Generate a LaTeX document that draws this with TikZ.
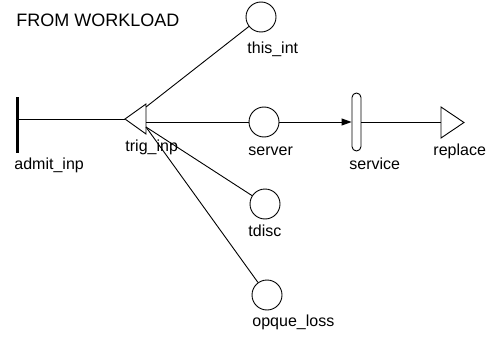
\documentclass[tikz,border=0pt]{standalone}
\usepackage{fontspec}
\setmainfont{Liberation Sans}
\usetikzlibrary{arrows.meta}
\begin{document}
\begin{tikzpicture}[x=1pt,y=-1pt,line width=0.9pt,
  lbl/.style={font=\fontsize{16}{18}\selectfont, anchor=base west, inner sep=0pt},
  ttl/.style={font=\fontsize{18}{21}\selectfont, anchor=base west, inner sep=0pt},
  place/.style={circle, draw, minimum size=30pt, inner sep=0pt},
  bar/.style={rectangle, draw, rounded corners=4.5pt, minimum width=9pt, minimum height=58pt, inner sep=0pt},
  arr/.style={-{Triangle[length=10pt,width=7pt]}}]
\useasboundingbox (0,0) rectangle (490,337);
% title
\node[ttl] (title) at (16,26.5) {FROM WORKLOAD};
% admit_inp bar
\coordinate (admitTop) at (17.5,97);
\coordinate (admitBot) at (17.5,153);
\coordinate (admit) at (17.5,119);
\draw[line width=2.6pt] (admitTop) -- (admitBot);
\node[lbl] (admitlbl) at (14,169.5) {admit\_inp};
% trig_inp triangle
\coordinate (trigTip) at (125,119);
\coordinate (trigT) at (146,104);
\coordinate (trigB) at (146,134);
\draw (trigTip) -- (trigT) -- (trigB) -- cycle;
\coordinate (trigA) at (146,107);
\coordinate (trigS) at (146,122);
\coordinate (trigC) at (146,127);
\node[lbl] (triglbl) at (125,151) {trig\_inp};
\draw (admit) -- (trigTip);
% places
\node[place] (thisint) at (261,17) {};
\node[place] (server) at (264,122) {};
\node[place] (tdisc) at (265,204) {};
\node[place] (opque) at (267,295) {};
\node[lbl] (thisintlbl) at (247,54) {this\_int};
\node[lbl] (serverlbl) at (248,155) {server};
\node[lbl] (tdisclbl) at (248,236) {tdisc};
\node[lbl] (opquelbl) at (252,326) {opque\_loss};
% service bar
\node[bar] (service) at (356.5,122) {};
\node[lbl] (servicelbl) at (349,169.5) {service};
% replace triangle
\coordinate (repT) at (441,107);
\coordinate (repB) at (441,138);
\coordinate (repTip) at (464,122.5);
\coordinate (rep) at (441,122);
\draw (repT) -- (repTip) -- (repB) -- cycle;
\node[lbl] (replbl) at (433,155.5) {replace};
% connectors
\draw (trigA) -- (thisint);
\draw (trigS) -- (server);
\draw (trigC) -- (tdisc);
\draw (trigC) -- (opque);
\draw[arr] (server) -- (service);
\draw (service) -- (rep);
\end{tikzpicture}
\end{document}
